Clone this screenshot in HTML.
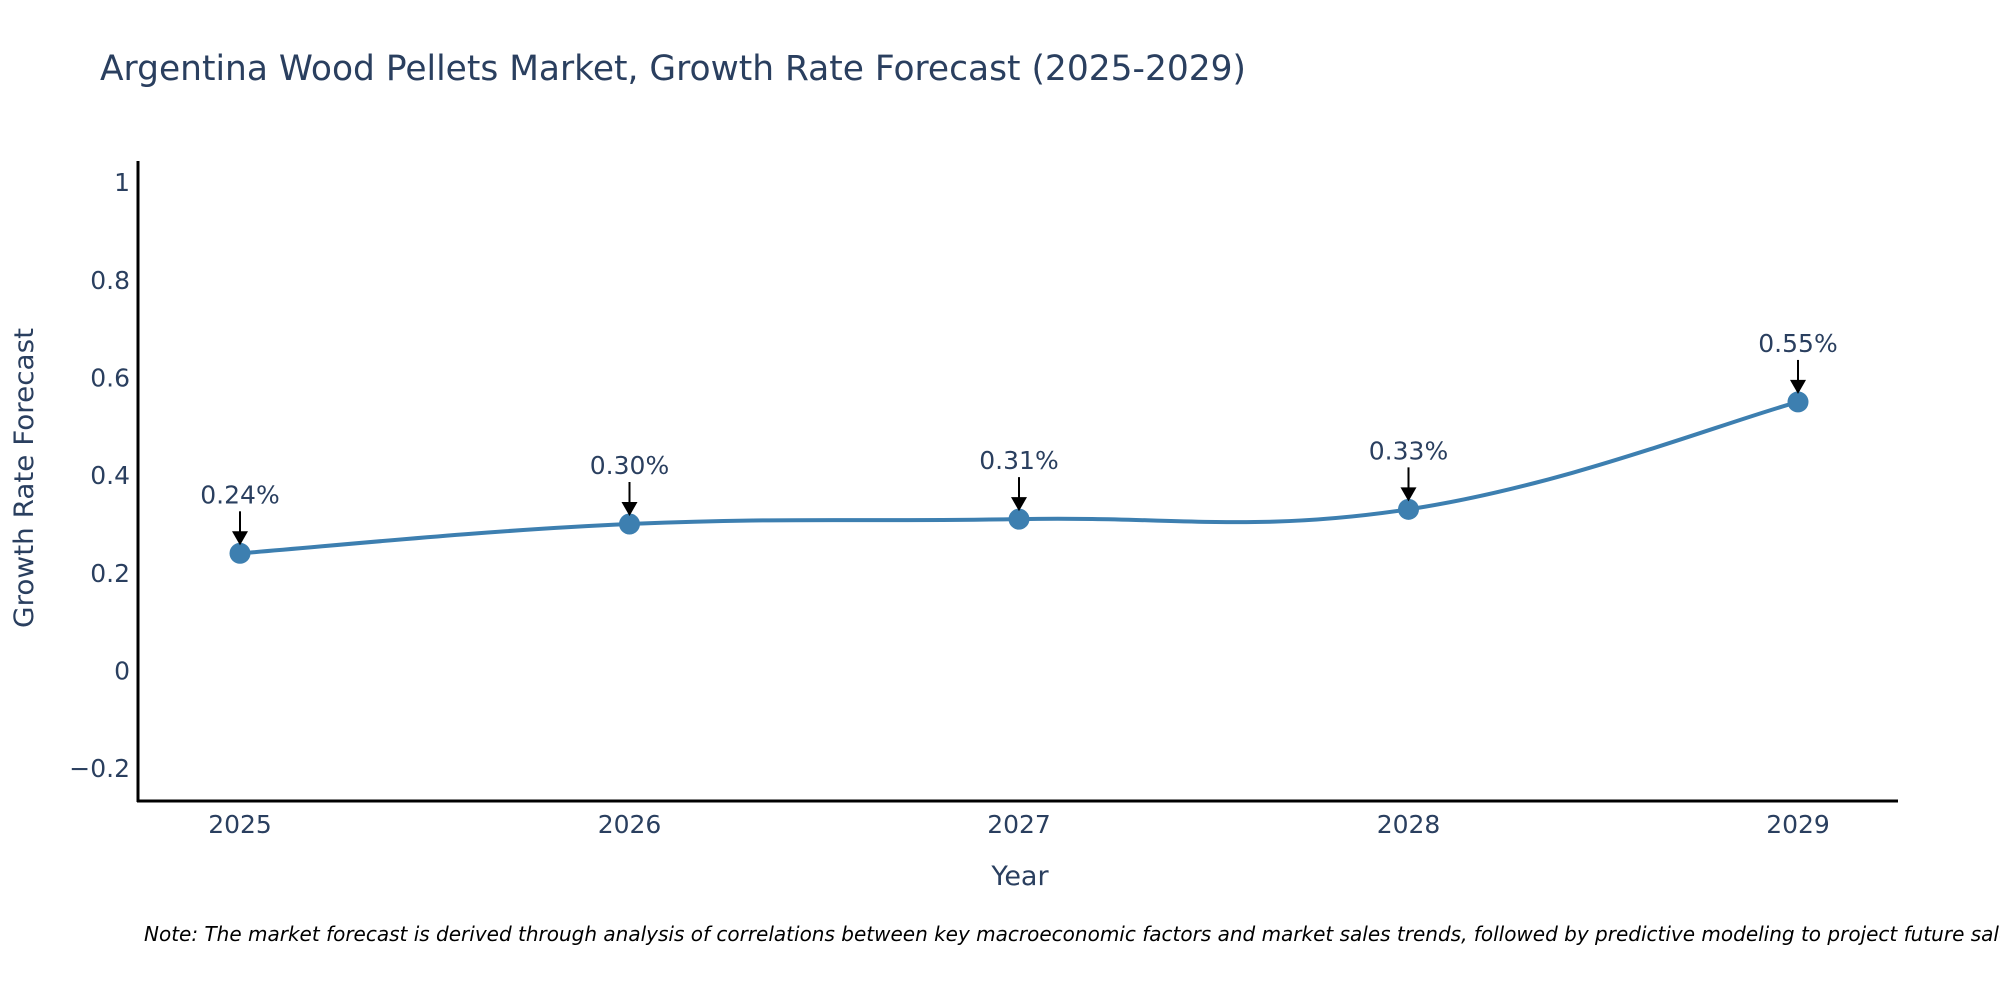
<!DOCTYPE html>
<html><head><meta charset="utf-8"><style>
html,body{margin:0;padding:0;background:#fff;}
svg{display:block;font-family:"DejaVu Sans","Liberation Sans",sans-serif;}
</style></head><body>
<svg id="chart" width="2000" height="1000" viewBox="0 0 2000 1000">
<text x="100" y="80" font-size="35" fill="#2a3f5f" textLength="1146" lengthAdjust="spacingAndGlyphs">Argentina Wood Pellets Market, Growth Rate Forecast (2025-2029)</text>
<g id="ticks"></g>
<g id="plot"></g>
<line x1="138" y1="161" x2="138" y2="802" stroke="#000" stroke-width="3"/>
<line x1="137" y1="801" x2="1898" y2="801" stroke="#000" stroke-width="3"/>
<text transform="translate(33,478) rotate(-90)" text-anchor="middle" font-size="27" fill="#2a3f5f" textLength="300" lengthAdjust="spacingAndGlyphs">Growth Rate Forecast</text>
<text x="1020" y="885" text-anchor="middle" font-size="27" fill="#2a3f5f">Year</text>
<text x="144" y="941" font-size="20" font-style="italic" fill="#000">Note: The market forecast is derived through analysis of correlations between key macroeconomic factors and market sales trends, followed by predictive modeling to project future sales.</text>
</svg>
<script>
const years = ["2025","2026","2027","2028","2029"];
const growth = [0.24, 0.30, 0.31, 0.33, 0.55];
const labels = ["0.24%","0.30%","0.31%","0.33%","0.55%"];
const yTicks = [-0.2, 0, 0.2, 0.4, 0.6, 0.8, 1];
const yTickLabels = ["\u22120.2","0","0.2","0.4","0.6","0.8","1"];

const NS="http://www.w3.org/2000/svg";
function X(i){return 240 + i*389.5;}
function Y(v){return 670.5 - v*488.3;}
function mk(tag,attrs,parent){const e=document.createElementNS(NS,tag);for(const k in attrs)e.setAttribute(k,attrs[k]);parent.appendChild(e);return e;}
const ticks=document.getElementById('ticks'), plot=document.getElementById('plot');

yTicks.forEach((v,i)=>{
  const t=mk('text',{x:130,y:Y(v)+9,'text-anchor':'end','font-size':'25',fill:'#2a3f5f'},ticks);
  
  
  t.textContent=yTickLabels[i];
});
years.forEach((y,i)=>{
  const t=mk('text',{x:X(i),y:833,'text-anchor':'middle','font-size':'25',fill:'#2a3f5f'},ticks);
  
  
  t.textContent=y;
});

const pts=growth.map((v,i)=>[X(i),Y(v)]);
let d=`M${pts[0][0]},${pts[0][1]}`;
const s=0.2;
for(let i=0;i<pts.length-1;i++){
  const p0=pts[Math.max(i-1,0)],p1=pts[i],p2=pts[i+1],p3=pts[Math.min(i+2,pts.length-1)];
  const c1=[p1[0]+(p2[0]-p0[0])*s,p1[1]+(p2[1]-p0[1])*s];
  const c2=[p2[0]-(p3[0]-p1[0])*s,p2[1]-(p3[1]-p1[1])*s];
  d+=` C${c1[0]},${c1[1]} ${c2[0]},${c2[1]} ${p2[0]},${p2[1]}`;
}
const line=mk('path',{d:d,fill:'none',stroke:'#3d7fb0','stroke-width':'4'},plot);



pts.forEach((p,i)=>{
  const c=mk('circle',{cx:p[0],cy:p[1],r:10.5,fill:'#3d7fb0'},plot);
  
  
  const a=mk('line',{x1:p[0],y1:p[1]-42,x2:p[0],y2:p[1]-20,stroke:'#000','stroke-width':'2'},plot);
  
  
  const h=mk('polygon',{points:`${p[0]-8},${p[1]-22} ${p[0]+8},${p[1]-22} ${p[0]},${p[1]-8}`,fill:'#000'},plot);
  
  
  const t=mk('text',{x:p[0],y:p[1]-50,'text-anchor':'middle','font-size':'25',fill:'#2a3f5f'},plot);
  
  
  t.textContent=labels[i];
});
</script>
</body></html>
